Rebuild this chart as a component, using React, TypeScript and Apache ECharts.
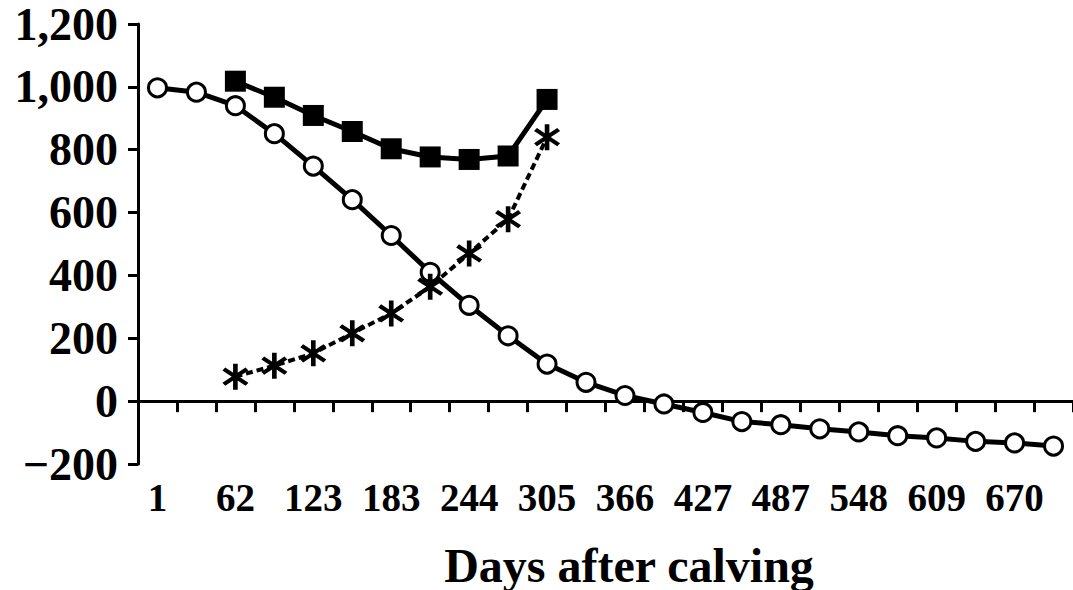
import React, { useEffect, useRef } from "react";
import * as echarts from "echarts";

const days = [
  "1", "31", "62", "92", "123", "153", "183", "214", "244", "275", "305", "336",
  "366", "397", "427", "457", "487", "518", "548", "579", "609", "640", "670", "700",
];

const circleSeries = [
  997, 983, 940, 851, 748, 641, 527, 410, 305, 208, 118, 60,
  18, -9, -36, -65, -75, -88, -98, -110, -117, -128, -133, -143,
];

const squareSeries = [
  null, null, 1018, 967, 909, 858, 803, 777, 769, 780, 960, null,
  null, null, null, null, null, null, null, null, null, null, null, null,
];

const starSeries = [
  null, null, 78, 113, 152, 216, 279, 364, 470, 579, 840, null,
  null, null, null, null, null, null, null, null, null, null, null, null,
];

const zeroLine = days.map(() => 0);

const yTicks = [-200, 0, 200, 400, 600, 800, 1000, 1200];

const axisTitle = "Days after calving";

const starPath =
  "path://M10.2,0 L13.8,0 L13.8,24 L10.2,24 Z " +
  "M4.1,3.58 L22.1,17.58 L19.9,20.42 L1.9,6.42 Z " +
  "M19.9,3.58 L22.1,6.42 L4.1,20.42 L1.9,17.58 Z";

const FONT = "'Liberation Serif', 'Times New Roman', serif";

function fmt(v: number): string {
  const s = Math.abs(v).toLocaleString("en-US");
  return v < 0 ? "\u2212" + s : s;
}

export default function App() {
  const ref = useRef<HTMLDivElement>(null);

  useEffect(() => {
    if (!ref.current) return;
    const chart = echarts.init(ref.current, null, { renderer: "svg" });
    chart.setOption({
      animation: false,
      backgroundColor: "#ffffff",
      grid: { left: 138, top: 24, width: 939, height: 440 },
      xAxis: {
        type: "category",
        data: days,
        boundaryGap: true,
        axisLine: { show: true, lineStyle: { color: "#000", width: 3 } },
        axisTick: { show: true, interval: 0, length: 11, lineStyle: { color: "#000", width: 3 } },
        axisLabel: {
          interval: 1,
          margin: 14,
          color: "#000",
          fontFamily: FONT,
          fontWeight: "bold",
          fontSize: 39,
        },
        splitLine: { show: false },
      },
      yAxis: {
        type: "value",
        min: yTicks[0],
        max: yTicks[yTicks.length - 1],
        interval: 200,
        axisLine: { show: true, lineStyle: { color: "#000", width: 3 } },
        axisTick: { show: true, length: 10, lineStyle: { color: "#000", width: 3 } },
        axisLabel: {
          margin: 20,
          color: "#000",
          fontFamily: FONT,
          fontWeight: "bold",
          fontSize: 46,
          lineHeight: 36,
          formatter: (v: number) => fmt(v),
        },
        splitLine: { show: false },
      },
      graphic: [
        {
          type: "text",
          x: 629,
          y: 541,
          style: {
            text: axisTitle,
            fill: "#000",
            font: `bold 48px ${FONT}`,
            textAlign: "center",
            textVerticalAlign: "top",
          },
        },
      ],
      series: [
        {
          name: "zero",
          type: "line",
          data: zeroLine,
          symbol: "none",
          lineStyle: { color: "#000", width: 2.5 },
          z: 1,
          silent: true,
        },
        {
          name: "circles",
          type: "line",
          data: circleSeries,
          symbol: "circle",
          symbolSize: 18,
          showAllSymbol: true,
          lineStyle: { color: "#000", width: 5 },
          itemStyle: { color: "#fff", borderColor: "#000", borderWidth: 3 },
          z: 3,
        },
        {
          name: "squares",
          type: "line",
          data: squareSeries,
          symbol: "rect",
          symbolSize: 21,
          showAllSymbol: true,
          lineStyle: { color: "#000", width: 5 },
          itemStyle: { color: "#000" },
          z: 4,
        },
        {
          name: "stars",
          type: "line",
          data: starSeries,
          symbol: starPath,
          symbolSize: 26,
          showAllSymbol: true,
          lineStyle: { color: "#000", width: 4, type: [7, 4] },
          itemStyle: { color: "#000" },
          z: 5,
        },
      ],
    });
    return () => chart.dispose();
  }, []);

  return (
    <div
      ref={ref}
      style={{ position: "fixed", left: 0, top: 0, width: 1073, height: 590, background: "#fff" }}
    />
  );
}
